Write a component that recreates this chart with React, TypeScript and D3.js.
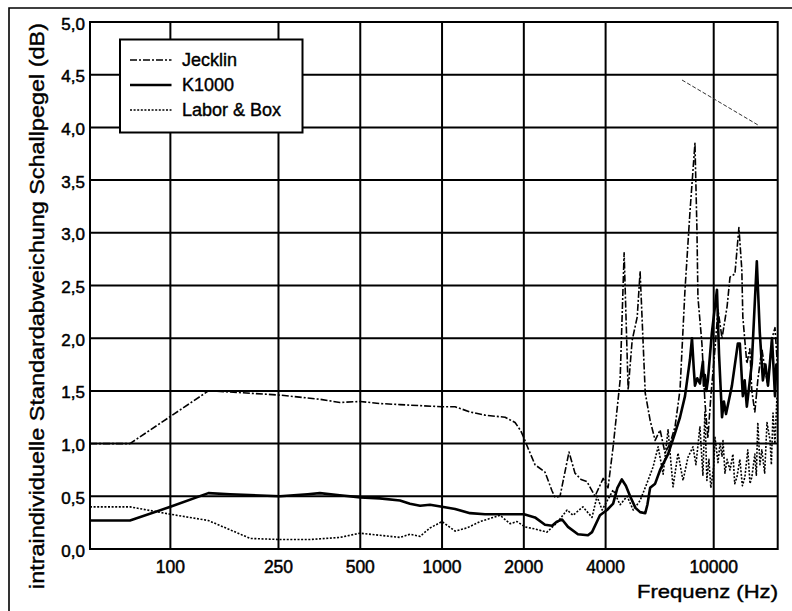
import React from "react";
import * as d3 from "d3";

// Axis ticks
const xTicks = [100, 250, 500, 1000, 2000, 4000, 10000];
const yTicks = [0, 0.5, 1, 1.5, 2, 2.5, 3, 3.5, 4, 4.5, 5];

// Standard deviation of sound level per frequency [Hz, dB]
const jecklin: [number, number][] = [
  [50.6, 1.0], [71, 1.0], [138, 1.5], [166, 1.49], [253, 1.46], [356, 1.42],
  [421, 1.39], [499, 1.4], [591, 1.38], [700, 1.37], [830, 1.36], [1000, 1.35],
  [1117, 1.35], [1268, 1.3], [1440, 1.27], [1706, 1.25], [1857, 1.2], [1950, 1.12],
  [2004, 1.05], [2055, 0.98], [2198, 0.8], [2393, 0.73], [2541, 0.55], [2606, 0.49],
  [2718, 0.5], [2933, 0.92], [3085, 0.72], [3250, 0.66], [3415, 0.64], [3656, 0.5],
  [3919, 0.67], [4083, 0.58], [4264, 0.97], [4523, 1.6], [4680, 2.81], [4842, 1.51],
  [5010, 1.98], [5228, 2.2], [5359, 2.63], [5597, 1.48], [5834, 1.22], [6087, 1.03],
  [6349, 1.13], [6619, 0.91], [6906, 1.0], [7204, 1.16], [7515, 1.51], [7840, 2.46],
  [8178, 3.2], [8530, 3.85], [8675, 3.03], [8748, 2.39], [9048, 1.95], [9280, 1.4],
  [9518, 1.05], [9760, 1.45], [10110, 1.9], [10370, 2.27], [10730, 2.0], [11200, 2.3],
  [11480, 2.58], [11970, 2.61], [12380, 3.05], [12690, 2.65], [12800, 2.2], [13240, 1.76],
  [13580, 1.9], [13810, 1.5], [14170, 1.3], [14530, 1.6], [15040, 1.9], [15440, 1.7],
  [15840, 1.55], [16390, 2.0], [16810, 2.1], [17200, 1.7],
];

const k1000: [number, number][] = [
  [50.6, 0.27], [71, 0.27], [100, 0.4], [138, 0.53], [166, 0.52], [253, 0.5],
  [320, 0.52], [355, 0.53], [420, 0.51], [500, 0.49], [590, 0.48], [700, 0.46],
  [762, 0.43], [830, 0.41], [903, 0.42], [1000, 0.4], [1117, 0.38], [1268, 0.34],
  [1440, 0.33], [1706, 0.33], [2004, 0.33], [2198, 0.3], [2393, 0.23], [2541, 0.22],
  [2650, 0.26], [2766, 0.28], [2908, 0.21], [3163, 0.14], [3444, 0.13], [3565, 0.16],
  [3813, 0.32], [4048, 0.37], [4264, 0.43], [4420, 0.58], [4590, 0.66], [4750, 0.6],
  [4924, 0.5], [5150, 0.39], [5359, 0.35], [5597, 0.34], [5700, 0.42], [5834, 0.58],
  [6087, 0.62], [6349, 0.75], [6791, 0.9], [7204, 1.1], [7515, 1.25], [7840, 1.45],
  [8178, 1.8], [8317, 2.0], [8450, 1.7], [8530, 1.55], [8700, 1.62], [8897, 1.57],
  [9125, 1.78], [9200, 1.55], [9280, 1.65], [9400, 1.5], [9518, 1.6], [9843, 2.05],
  [10280, 2.46], [10460, 1.85], [10730, 1.25], [10900, 1.4], [11100, 1.28], [11670, 1.55],
  [12270, 1.95], [12480, 1.95], [12800, 1.45], [13000, 1.6], [13240, 1.35], [13810, 1.76],
  [14410, 2.73], [14780, 2.05], [15170, 1.6], [15500, 1.75], [15840, 1.55], [16390, 2.0],
  [16810, 1.45], [17000, 1.75], [17200, 1.65],
];

const laborBox: [number, number][] = [
  [50.6, 0.4], [71, 0.4], [100, 0.33], [138, 0.27], [197, 0.1], [253, 0.09],
  [327, 0.09], [421, 0.11], [499, 0.15], [591, 0.13], [700, 0.11], [762, 0.14],
  [830, 0.12], [903, 0.2], [1000, 0.26], [1117, 0.17], [1236, 0.2], [1380, 0.26],
  [1635, 0.32], [1780, 0.24], [1888, 0.26], [2020, 0.21], [2198, 0.19], [2432, 0.16],
  [2650, 0.25], [2886, 0.37], [3034, 0.32], [3301, 0.4], [3565, 0.3], [3718, 0.5],
  [3884, 0.37], [4264, 0.56], [4523, 0.42], [4800, 0.5], [5056, 0.37], [5359, 0.46],
  [5690, 0.63], [5984, 0.78], [6243, 0.97], [6513, 0.71], [6791, 1.13], [7084, 0.59],
  [7390, 0.91], [7709, 0.65], [8041, 0.87], [8387, 0.97], [8600, 0.8], [8897, 1.16],
  [9125, 0.7], [9280, 1.3], [9438, 0.65], [9600, 0.85], [9760, 0.58], [10000, 0.78],
  [10110, 1.06], [10370, 0.82], [10550, 1.0], [10730, 0.88], [10820, 1.03], [11000, 0.72],
  [11200, 0.85], [11480, 0.75], [11770, 0.9], [11950, 0.62], [12170, 0.68], [12480, 0.85],
  [12750, 0.6], [13020, 0.68], [13350, 0.94], [13600, 0.62], [13810, 0.68], [14170, 0.9],
  [14350, 0.7], [14530, 1.2], [14800, 0.8], [15040, 0.94], [15400, 0.72], [15710, 1.2],
  [16120, 1.03], [16300, 0.8], [16530, 1.29], [16800, 1.0], [17090, 1.44],
];

const seriesNames = ["Jecklin", "K1000", "Labor & Box"];

const FONT = "'Liberation Sans', Arial, Helvetica, sans-serif";

export default function App() {
  const W = 792;
  const H = 611;
  const left = 90;
  const right = 777.7;
  const top = 22;
  const bottom = 549;

  const x = d3.scaleLog().domain([50.6, 17200]).range([left, right]);
  const y = d3.scaleLinear().domain([0, 5]).range([bottom, top]);

  const line = d3
    .line<[number, number]>()
    .x((d) => x(d[0]))
    .y((d) => y(d[1]))
    .curve(d3.curveLinear);

  const styles = [
    { data: jecklin, dash: "7 2 2 2", width: 1.6 },
    { data: k1000, dash: "none", width: 2.6 },
    { data: laborBox, dash: "2 1.6", width: 1.6 },
  ];

  const fmt = (v: number) => v.toFixed(1).replace(".", ",");

  return (
    <svg
      width={W}
      height={H}
      style={{ position: "absolute", left: 0, top: 0, background: "#fff" }}
      fontFamily={FONT}
    >
      <defs>
        <clipPath id="plot">
          <rect x={left} y={top} width={right - left} height={bottom - top} />
        </clipPath>
      </defs>
      <rect width={W} height={H} fill="#fff" />

      {/* outer frame */}
      <path d={`M9,${H} V8 H${W}`} fill="none" stroke="#000" strokeWidth={1.6} />

      {/* grid */}
      {yTicks.map((t) => (
        <line key={"gy" + t} x1={left} x2={right} y1={y(t)} y2={y(t)} stroke="#000" strokeWidth={2} />
      ))}
      {xTicks.map((t) => (
        <line key={"gx" + t} x1={x(t)} x2={x(t)} y1={top} y2={bottom} stroke="#000" strokeWidth={2} />
      ))}
      <rect x={left} y={top} width={right - left} height={bottom - top} fill="none" stroke="#000" strokeWidth={2} />

      {/* tick labels */}
      {yTicks.map((t) => (
        <text
          key={"ly" + t}
          x={85}
          y={y(t) + 2}
          textAnchor="end"
          dominantBaseline="central"
          fontSize={17}
          stroke="#000"
          strokeWidth={0.5}
        >
          {fmt(t)}
        </text>
      ))}
      {xTicks.map((t) => (
        <text
          key={"lx" + t}
          x={x(t)}
          y={573}
          textAnchor="middle"
          fontSize={17.5}
          stroke="#000"
          strokeWidth={0.5}
        >
          {t}
        </text>
      ))}

      {/* axis titles */}
      <text
        x={778}
        y={598}
        textAnchor="end"
        fontSize={19}
        textLength={141}
        lengthAdjust="spacingAndGlyphs"
        stroke="#000"
        strokeWidth={0.4}
      >
        Frequenz (Hz)
      </text>
      <text
        transform="translate(44,306) rotate(-90)"
        textAnchor="middle"
        fontSize={20}
        textLength={566}
        lengthAdjust="spacingAndGlyphs"
        stroke="#000"
        strokeWidth={0.4}
      >
        intraindividuelle Standardabweichung Schallpegel (dB)
      </text>

      {/* series */}
      <g clipPath="url(#plot)">
        {styles.map((s, i) => (
          <path
            key={seriesNames[i]}
            d={line(s.data) || ""}
            fill="none"
            stroke="#000"
            strokeWidth={s.width}
            strokeDasharray={s.dash}
            strokeLinejoin="round"
          />
        ))}
        {/* stray pen stroke in upper right */}
        <line x1={682} y1={80} x2={758} y2={125} stroke="#333" strokeWidth={1} strokeDasharray="4 2" />
      </g>

      {/* legend */}
      <g>
        <rect x={120} y={39.5} width={182.5} height={93} fill="#fff" stroke="#000" strokeWidth={2} />
        {seriesNames.map((n, i) => (
          <g key={"lg" + n}>
            <line
              x1={130}
              x2={171.5}
              y1={60 + i * 25}
              y2={60 + i * 25}
              stroke="#000"
              strokeWidth={styles[i].width}
              strokeDasharray={styles[i].dash}
            />
            <text
              x={182}
              y={60 + i * 25}
              dominantBaseline="central"
              fontSize={18}
              stroke="#000"
              strokeWidth={0.4}
            >
              {n}
            </text>
          </g>
        ))}
      </g>
    </svg>
  );
}
